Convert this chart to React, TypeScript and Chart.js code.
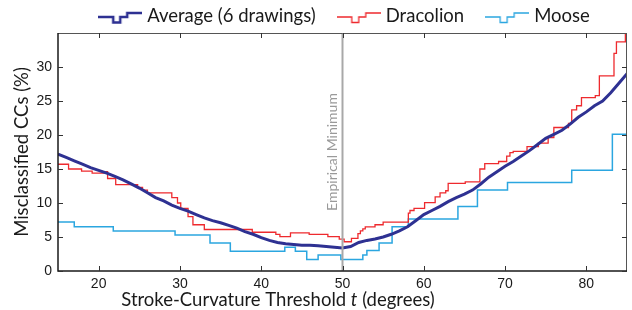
import React, { useEffect, useRef } from "react";
import { Chart, registerables } from "chart.js";

Chart.register(...registerables);

// ---------- data ----------
const seriesLabels = ["Average (6 drawings)", "Dracolion", "Moose"];
const xTicks = [20, 30, 40, 50, 60, 70, 80];
const yTicks = [0, 5, 10, 15, 20, 25, 30];
const xRange = [15, 85];
const yRange = [0, 35];
const empiricalMinimum = 50;
const empiricalLabel = "Empirical Minimum";
const yTitle = "Misclassified CCs (%)";
const xTitleBefore = "Stroke-Curvature Threshold ";
const xTitleVar = "t";
const xTitleAfter = " (degrees)";

const averageX = [
  15, 16, 17, 18, 19, 20, 21, 22, 23, 24, 25, 26, 27, 28, 29, 30, 31, 32, 33, 34,
  35, 36, 37, 38, 39, 40, 41, 42, 43, 44, 45, 46, 47, 48, 49, 50, 51, 52, 53, 54,
  55, 56, 57, 58, 59, 60, 61, 62, 63, 64, 65, 66, 67, 68, 69, 70, 71, 72, 73, 74,
  75, 76, 77, 78, 79, 80, 81, 82, 83, 84, 85,
];
const averageY = [
  17.2, 16.7, 16.2, 15.7, 15.2, 14.8, 14.4, 13.9, 13.4, 12.8, 12.2, 11.5, 10.8, 10.3, 9.7, 9.2, 8.8, 8.3, 7.8, 7.4,
  7.1, 6.7, 6.3, 5.8, 5.4, 4.9, 4.5, 4.2, 4.0, 3.9, 3.8, 3.8, 3.7, 3.6, 3.5, 3.4, 3.6, 4.2, 4.5, 4.7,
  5.0, 5.4, 5.9, 6.5, 7.4, 8.3, 8.9, 9.5, 10.2, 10.8, 11.3, 11.9, 12.8, 13.8, 14.6, 15.4, 16.1, 16.9, 17.7, 18.6,
  19.5, 20.1, 20.7, 21.6, 22.6, 23.4, 24.3, 25.0, 26.2, 27.6, 29.0,
];

const dracolionX = [
  15, 16.3, 17.9, 19.2, 20.9, 21.1, 22.1, 24.8, 25.4, 26.0, 29.0, 29.7, 30.1, 31.0, 31.6, 33.0,
  38.9, 41.8, 42.3, 43.6, 45.9, 48.2, 49.6, 50.2, 51.1, 51.9, 52.2, 52.5, 52.8, 54.0, 55.0,
  58.1, 58.3, 58.8, 60.1, 61.4, 62.0, 62.7, 63.0, 65.1, 66.9, 67.5, 69.2, 70.2, 70.6, 71.0,
  72.7, 74.1, 75.3, 76.0, 77.8, 78.2, 78.8, 79.4, 81.1, 81.6, 83.4, 83.7, 84.8, 85,
];
const dracolionY = [
  15.7, 15.0, 14.7, 14.4, 14.6, 13.6, 12.7, 12.3, 11.9, 11.5, 10.8, 10.0, 9.2, 8.0, 6.8, 6.1,
  5.7, 5.4, 5.05, 5.6, 5.4, 5.05, 4.7, 4.3, 4.8, 5.5, 5.9, 6.2, 6.5, 6.8, 7.2,
  8.5, 8.9, 9.2, 10.05, 10.9, 11.5, 11.8, 12.9, 13.1, 15.0, 15.8, 16.1, 16.9, 17.4, 17.6,
  18.3, 18.8, 19.6, 21.1, 21.7, 23.7, 24.3, 25.5, 25.8, 28.7, 32.0, 33.7, 34.9, 34.9,
];

const mooseX = [
  15, 17.0, 21.8, 29.4, 33.7, 36.2, 42.9, 44.2, 45.6, 47.0, 49.8, 52.5, 53.0, 54.5, 56.1,
  58.1, 64.2, 66.6, 70.3, 78.2, 83.2, 85,
];
const mooseY = [
  7.2, 6.5, 5.9, 5.3, 4.1, 2.9, 3.5, 2.9, 1.7, 2.35, 1.7, 2.35, 3.0, 4.1, 6.5,
  7.65, 9.5, 11.9, 13.0, 14.8, 20.1, 20.1,
];

// ---------- styles ----------
const colors = ["#2e3192", "#ee2a2e", "#2ba6e0"];
const widths = [3, 1.3, 1.5];
const TITLE_FONT = "Lato, 'Open Sans', sans-serif";
const TICK_FONT = "'Liberation Sans', Arial, sans-serif";
const TITLE_SIZE = 18.5;

function makeIcon(color: string, lw: number) {
  const c = document.createElement("canvas");
  c.width = 44;
  c.height = 14;
  const g = c.getContext("2d")!;
  g.strokeStyle = color;
  g.lineWidth = lw;
  g.beginPath();
  g.moveTo(0, 6);
  g.lineTo(15, 6);
  g.lineTo(15, 11.5);
  g.lineTo(22, 11.5);
  g.lineTo(22, 6);
  g.lineTo(29, 6);
  g.lineTo(29, 2);
  g.lineTo(44, 2);
  g.stroke();
  return c;
}

const decorPlugin = {
  id: "decor",
  afterDatasetsDraw(chart: any) {
    const { ctx, chartArea: a, scales } = chart;
    const x = scales.x;
    const y = scales.y;
    ctx.save();
    // empirical minimum line
    const ex = x.getPixelForValue(empiricalMinimum);
    ctx.strokeStyle = "#a8a8a8";
    ctx.lineWidth = 2;
    ctx.beginPath();
    ctx.moveTo(ex, a.top);
    ctx.lineTo(ex, a.bottom);
    ctx.stroke();
    ctx.save();
    ctx.translate(ex - 10, (a.top + a.bottom) / 2);
    ctx.rotate(-Math.PI / 2);
    ctx.fillStyle = "#9a9a9a";
    ctx.font = `14px ${TITLE_FONT}`;
    ctx.textAlign = "center";
    ctx.textBaseline = "middle";
    ctx.fillText(empiricalLabel, 0, 0);
    ctx.restore();

    // box
    ctx.strokeStyle = "#555";
    ctx.lineWidth = 1;
    ctx.beginPath();
    ctx.moveTo(a.left, a.top + 0.5);
    ctx.lineTo(a.right, a.top + 0.5);
    ctx.moveTo(a.right - 0.5, a.top);
    ctx.lineTo(a.right - 0.5, a.bottom);
    ctx.stroke();
    ctx.strokeStyle = "#1a1a1a";
    ctx.lineWidth = 1.5;
    ctx.beginPath();
    ctx.moveTo(a.left, a.top);
    ctx.lineTo(a.left, a.bottom);
    ctx.lineTo(a.right, a.bottom);
    ctx.stroke();

    // inward ticks
    ctx.strokeStyle = "#333";
    ctx.lineWidth = 1;
    ctx.beginPath();
    xTicks.forEach((v) => {
      const px = Math.round(x.getPixelForValue(v)) + 0.5;
      ctx.moveTo(px, a.bottom);
      ctx.lineTo(px, a.bottom - 5);
      ctx.moveTo(px, a.top);
      ctx.lineTo(px, a.top + 5);
    });
    yTicks.forEach((v) => {
      const py = Math.round(y.getPixelForValue(v)) + 0.5;
      ctx.moveTo(a.left, py);
      ctx.lineTo(a.left + 5, py);
      ctx.moveTo(a.right, py);
      ctx.lineTo(a.right - 5, py);
    });
    ctx.stroke();
    ctx.restore();
  },
  afterDraw(chart: any) {
    const { ctx } = chart;
    ctx.save();
    // x title with italic variable
    const normal = `${TITLE_SIZE}px ${TITLE_FONT}`;
    const italic = `italic ${TITLE_SIZE}px ${TITLE_FONT}`;
    ctx.font = normal;
    const w1 = ctx.measureText(xTitleBefore).width;
    const w3 = ctx.measureText(xTitleAfter).width;
    ctx.font = italic;
    const w2 = ctx.measureText(xTitleVar).width;
    const total = w1 + w2 + w3;
    let sx = 278 - total / 2;
    const ty = 300;
    ctx.fillStyle = "#1a1a1a";
    ctx.textBaseline = "middle";
    ctx.textAlign = "left";
    ctx.font = normal;
    ctx.fillText(xTitleBefore, sx, ty);
    sx += w1;
    ctx.font = italic;
    ctx.fillText(xTitleVar, sx, ty);
    sx += w2;
    ctx.font = normal;
    ctx.fillText(xTitleAfter, sx, ty);

    // legend
    ctx.font = `${TITLE_SIZE}px ${TITLE_FONT}`;
    const iconW = 44;
    const gap = 5;
    const itemGap = 21;
    const textWs = seriesLabels.map((s) => ctx.measureText(s).width);
    const legendW =
      textWs.reduce((s, w) => s + w + iconW + gap, 0) + itemGap * (seriesLabels.length - 1);
    let lx = 344 - legendW / 2;
    const ly = 16;
    seriesLabels.forEach((lab, i) => {
      const icon = makeIcon(colors[i], i === 0 ? 2.5 : 1.3);
      ctx.drawImage(icon, lx, ly - 5);
      lx += iconW + gap;
      ctx.fillStyle = "#1a1a1a";
      ctx.textBaseline = "middle";
      ctx.fillText(lab, lx, ly);
      lx += textWs[i] + itemGap;
    });
    ctx.restore();
  },
};

function toPoints(xs: number[], ys: number[]) {
  return xs.map((x, i) => ({ x, y: ys[i] }));
}

export default function App() {
  const ref = useRef<HTMLCanvasElement | null>(null);
  useEffect(() => {
    if (!ref.current) return;
    const chart = new Chart(ref.current, {
      type: "line",
      data: {
        datasets: [
          {
            label: seriesLabels[0],
            data: toPoints(averageX, averageY),
            borderColor: colors[0],
            borderWidth: widths[0],
            pointRadius: 0,
            tension: 0,
            fill: false,
          },
          {
            label: seriesLabels[1],
            data: toPoints(dracolionX, dracolionY),
            borderColor: colors[1],
            borderWidth: widths[1],
            pointRadius: 0,
            stepped: true,
            fill: false,
          },
          {
            label: seriesLabels[2],
            data: toPoints(mooseX, mooseY),
            borderColor: colors[2],
            borderWidth: widths[2],
            pointRadius: 0,
            stepped: true,
            fill: false,
          },
        ],
      },
      options: {
        animation: false,
        responsive: false,
        devicePixelRatio: 1,
        layout: { padding: { top: 33, right: 5, left: 0, bottom: 0 } },
        plugins: {
          legend: { display: false },
          tooltip: { enabled: false },
        },
        scales: {
          x: {
            type: "linear",
            min: xRange[0],
            max: xRange[1],
            afterBuildTicks: (s: any) => {
              s.ticks = xTicks.map((v) => ({ value: v }));
            },
            afterFit: (s: any) => {
              s.height = 39;
            },
            grid: { display: false, drawTicks: false },
            border: { display: false },
            ticks: {
              padding: 5,
              maxRotation: 0,
              autoSkip: false,
              color: "#1a1a1a",
              font: { family: TICK_FONT, size: 14 },
            },
          },
          y: {
            type: "linear",
            min: yRange[0],
            max: yRange[1],
            afterBuildTicks: (s: any) => {
              s.ticks = yTicks.map((v) => ({ value: v }));
            },
            afterFit: (s: any) => {
              s.width = 58;
            },
            grid: { display: false, drawTicks: false },
            border: { display: false },
            ticks: {
              padding: 6,
              autoSkip: false,
              color: "#1a1a1a",
              font: { family: TICK_FONT, size: 14 },
            },
            title: {
              display: true,
              text: yTitle,
              color: "#1a1a1a",
              font: { family: TITLE_FONT, size: TITLE_SIZE },
              padding: { top: 11, bottom: 0 },
            },
          },
        },
      },
      plugins: [decorPlugin],
    });
    return () => chart.destroy();
  }, []);
  return (
    <canvas
      ref={ref}
      width={632}
      height={310}
      style={{ position: "fixed", left: 0, top: 0, width: 632, height: 310 }}
    />
  );
}
